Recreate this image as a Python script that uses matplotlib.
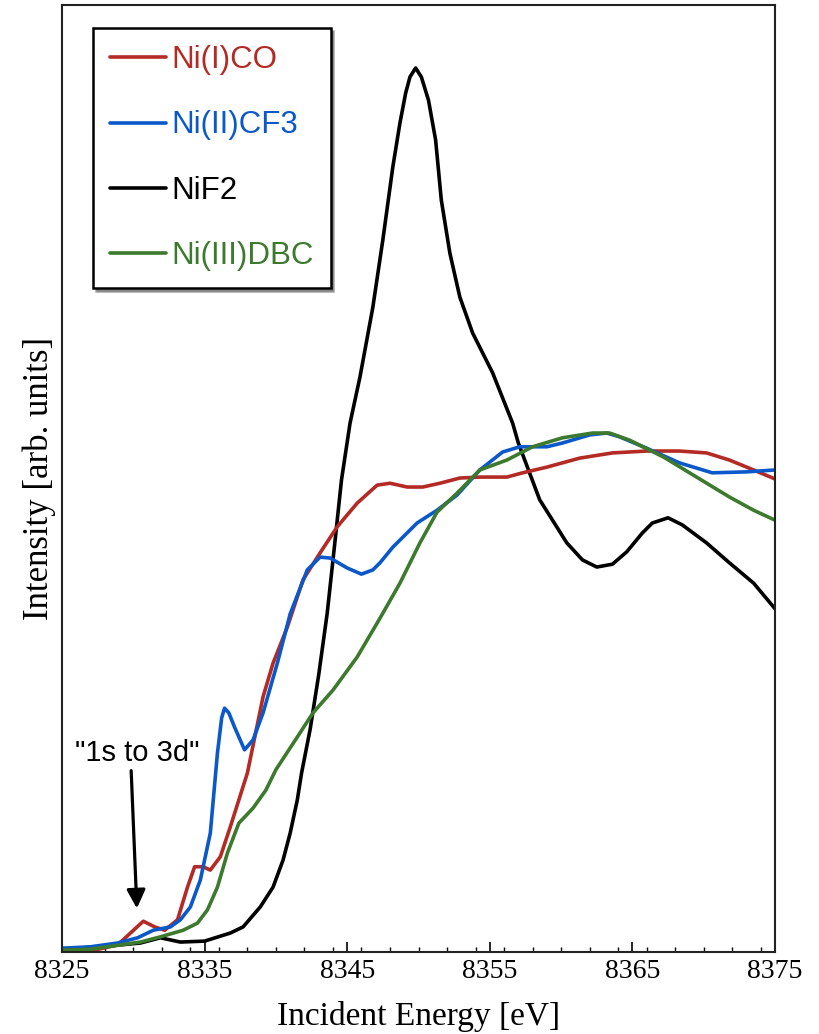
import matplotlib
matplotlib.use("Agg")
import matplotlib.pyplot as plt
from matplotlib.ticker import MultipleLocator

# ---- data (incident energy in eV, normalised intensity) ----
nif2_E = [8325.0, 8327.7, 8330.5, 8331.9, 8333.3, 8335.0, 8336.8, 8337.7, 8338.9, 8339.8,
          8340.5, 8341.0, 8341.5, 8341.8, 8342.4, 8343.0, 8343.6, 8344.1, 8344.6, 8345.2,
          8345.9, 8346.8, 8347.5, 8348.2, 8348.7, 8349.1, 8349.4, 8349.8, 8350.2, 8350.7,
          8351.2, 8351.6, 8352.2, 8352.9, 8353.8, 8355.2, 8356.6, 8357.0, 8358.5, 8360.4,
          8361.5, 8362.5, 8363.6, 8364.6, 8365.7, 8366.4, 8367.5, 8368.5, 8370.2, 8371.8,
          8373.5, 8375.0]
nif2_I = [0.006, 0.011, 0.019, 0.030, 0.021, 0.023, 0.040, 0.053, 0.095, 0.137,
          0.194, 0.251, 0.321, 0.378, 0.470, 0.585, 0.716, 0.855, 0.997, 1.117,
          1.215, 1.362, 1.504, 1.658, 1.751, 1.814, 1.848, 1.867, 1.848, 1.799,
          1.715, 1.588, 1.476, 1.383, 1.307, 1.223, 1.117, 1.075, 0.955, 0.864,
          0.828, 0.813, 0.819, 0.845, 0.885, 0.906, 0.917, 0.902, 0.864, 0.822,
          0.779, 0.725]

nico_E = [8325.0, 8327.0, 8328.9, 8329.8, 8330.7, 8331.5, 8332.2, 8333.1, 8333.8, 8334.3,
          8334.9, 8335.4, 8336.1, 8336.8, 8338.0, 8339.1, 8339.8, 8340.8, 8341.9, 8343.1,
          8344.3, 8345.7, 8347.1, 8348.0, 8349.2, 8350.3, 8351.5, 8352.9, 8354.3, 8356.2,
          8357.3, 8359.0, 8361.3, 8363.6, 8366.0, 8368.3, 8370.2, 8371.8, 8373.5, 8375.0]
nico_I = [0.002, 0.002, 0.015, 0.040, 0.065, 0.053, 0.046, 0.068, 0.137, 0.180,
          0.180, 0.173, 0.201, 0.264, 0.378, 0.539, 0.610, 0.686, 0.786, 0.843,
          0.898, 0.948, 0.986, 0.990, 0.982, 0.982, 0.990, 1.001, 1.003, 1.003,
          1.012, 1.024, 1.043, 1.054, 1.058, 1.058, 1.054, 1.039, 1.018, 0.999]

nicf3_E = [8325.0, 8327.0, 8328.9, 8330.3, 8331.4, 8332.6, 8333.3, 8334.0, 8334.7, 8335.4,
           8335.9, 8336.2, 8336.4, 8336.7, 8337.1, 8337.8, 8338.4, 8339.1, 8340.1, 8341.0,
           8342.2, 8343.1, 8343.8, 8345.0, 8346.0, 8346.8, 8347.3, 8348.2, 8349.9, 8351.3,
           8352.7, 8354.3, 8355.9, 8357.1, 8359.0, 8360.1, 8362.0, 8363.2, 8364.1, 8366.0,
           8368.3, 8370.6, 8373.0, 8375.0]
nicf3_I = [0.008, 0.011, 0.019, 0.030, 0.046, 0.053, 0.068, 0.095, 0.152, 0.251,
           0.420, 0.495, 0.515, 0.505, 0.475, 0.427, 0.448, 0.505, 0.610, 0.714,
           0.807, 0.834, 0.832, 0.811, 0.798, 0.807, 0.822, 0.855, 0.906, 0.933,
           0.965, 1.018, 1.056, 1.067, 1.067, 1.075, 1.092, 1.096, 1.088, 1.064,
           1.033, 1.012, 1.014, 1.018]

nidbc_E = [8325.0, 8327.0, 8329.1, 8330.5, 8331.9, 8333.5, 8334.5, 8335.2, 8335.9, 8336.6,
           8337.4, 8338.4, 8339.3, 8340.0, 8341.5, 8342.6, 8344.0, 8345.7, 8347.3, 8348.7,
           8350.1, 8351.3, 8352.7, 8354.3, 8356.2, 8358.0, 8360.1, 8362.2, 8363.4, 8364.8,
           8367.2, 8369.5, 8371.8, 8373.5, 8375.0]
nidbc_I = [0.004, 0.006, 0.015, 0.021, 0.032, 0.046, 0.061, 0.089, 0.137, 0.209,
           0.272, 0.304, 0.342, 0.385, 0.454, 0.505, 0.553, 0.623, 0.705, 0.779,
           0.864, 0.929, 0.969, 1.018, 1.039, 1.067, 1.086, 1.096, 1.096, 1.081,
           1.045, 1.003, 0.961, 0.933, 0.912]

labels = ["Ni(I)CO", "Ni(II)CF3", "NiF2", "Ni(III)DBC"]
colors = ["#B42A24", "#0A58CA", "#000000", "#3C7A2D"]
x_ticks = [8325, 8335, 8345, 8355, 8365, 8375]

# ---- figure ----
fig = plt.figure(figsize=(8.19, 10.34), dpi=100)
ax = fig.add_axes([62/819, 82/1034, 713/819, 947/1034])

series = [(nico_E, nico_I), (nicf3_E, nicf3_I), (nif2_E, nif2_I), (nidbc_E, nidbc_I)]
order = [2, 0, 1, 3]
handles = {}
for i in order:
    E, I = series[i]
    h, = ax.plot(E, I, color=colors[i], lw=2.6, label=labels[i],
                 solid_joinstyle="round", solid_capstyle="round")
    handles[i] = h

ax.set_xlim(8325, 8375)
ax.set_ylim(0, 2.0)
ax.set_xticks(x_ticks)
ax.xaxis.set_minor_locator(MultipleLocator(2))
ax.set_yticks([])
ax.tick_params(axis="x", which="major", direction="in", length=7, width=1.2,
               labelsize=20, pad=5)
ax.tick_params(axis="x", which="minor", direction="in", length=3.5, width=1.0)
for lab in ax.get_xticklabels():
    lab.set_fontfamily("Liberation Serif")
for s in ax.spines.values():
    s.set_linewidth(1.5)
    s.set_color("#222222")

ax.set_xlabel("Incident Energy [eV]", fontsize=24, family="Liberation Serif", labelpad=12)
ax.set_ylabel("Intensity [arb. units]", fontsize=25, family="Liberation Serif", labelpad=4)

leg = ax.legend([handles[i] for i in range(4)], labels, loc="upper left",
                bbox_to_anchor=(31/713, 1 - 23/947), fancybox=False, shadow=True,
                frameon=True, edgecolor="black", framealpha=1,
                prop={"family": "Liberation Sans", "size": 22.5},
                handlelength=1.8, handletextpad=0.15, labelspacing=1.13,
                borderpad=0.55, borderaxespad=0)
leg.get_frame().set_linewidth(1.8)
for txt, c in zip(leg.get_texts(), colors):
    txt.set_color(c)

ax.text(8330.3, 0.39, '"1s to 3d"', ha="center", va="bottom", fontsize=21,
        family="Liberation Sans")
ax.annotate("", xy=(8330.25, 0.092), xytext=(8329.85, 0.383),
            arrowprops=dict(arrowstyle="-|>", color="black", lw=2.3,
                            mutation_scale=28, shrinkA=0, shrinkB=0))

fig.savefig("out.png", dpi=100)
